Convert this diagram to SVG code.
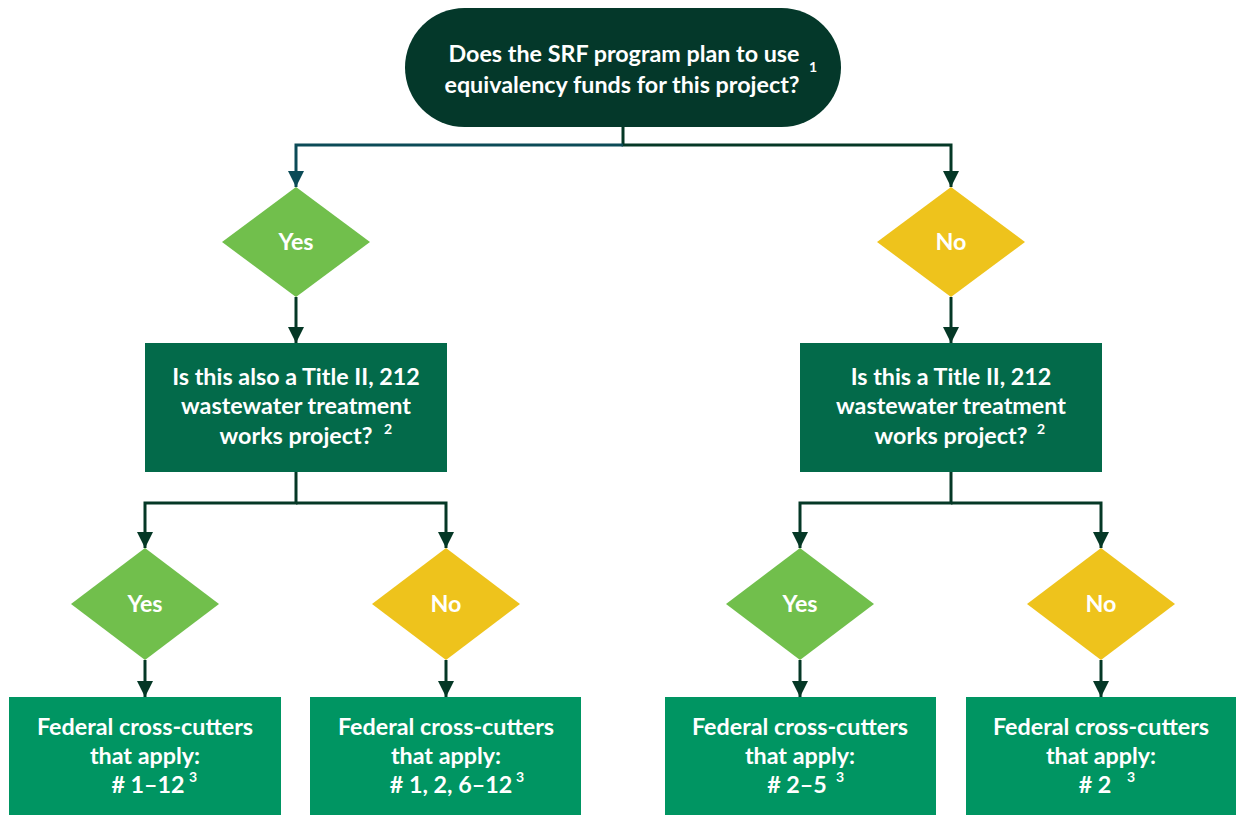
<svg xmlns="http://www.w3.org/2000/svg" width="1236" height="815" viewBox="0 0 1236 815">
<style>
text{font-family:Lato,"Open Sans","Liberation Sans",sans-serif;font-weight:bold;fill:#ffffff}
.t{font-size:23.3px;text-anchor:middle}
.m{font-size:23.3px;text-anchor:middle}
.d{font-size:23.3px;text-anchor:middle}
.s{font-size:14px}
.c{fill:none;stroke:#053826;stroke-width:3}
.ct{fill:none;stroke:#0b4b57;stroke-width:3}
</style>
<defs>
<marker id="a" viewBox="0 0 16 16" refX="16" refY="8" markerWidth="16" markerHeight="16" markerUnits="userSpaceOnUse" orient="auto">
<path d="M0,0 L16,8 L0,16 Z" fill="#053826"/>
</marker>
<marker id="at" viewBox="0 0 16 16" refX="16" refY="8" markerWidth="16" markerHeight="16" markerUnits="userSpaceOnUse" orient="auto">
<path d="M0,0 L16,8 L0,16 Z" fill="#0b4b57"/>
</marker>
</defs>
<g id="connectors">
<path class="c" d="M623,127 V145 H951 V187" marker-end="url(#a)"/>
<path class="ct" d="M623,145 H296 V187" marker-end="url(#at)"/>
<path class="c" d="M296,297 V343" marker-end="url(#a)"/>
<path class="c" d="M951,297 V343" marker-end="url(#a)"/>
<path class="c" d="M296,472 V503 H145 V548" marker-end="url(#a)"/>
<path class="c" d="M296,503 H446 V548" marker-end="url(#a)"/>
<path class="c" d="M951,472 V503 H800 V548" marker-end="url(#a)"/>
<path class="c" d="M951,503 H1101 V548" marker-end="url(#a)"/>
<path class="c" d="M145,660 V697" marker-end="url(#a)"/>
<path class="c" d="M446,660 V697" marker-end="url(#a)"/>
<path class="c" d="M800,660 V697" marker-end="url(#a)"/>
<path class="c" d="M1101,660 V697" marker-end="url(#a)"/>
</g>
<g id="start">
<rect x="405" y="8" width="436" height="119" rx="59.5" fill="#04382a"/>
<text class="t" x="624" y="62">Does the SRF program plan to use</text>
<text class="t" x="622" y="93">equivalency funds for this project?</text>
<text class="s" x="809" y="72">1</text>
</g>
<g id="yes1">
<path d="M296,187 L370,242 L296,297 L222,242 Z" fill="#71bf4c"/>
<text class="d" x="296" y="250">Yes</text>
</g>
<g id="no1">
<path d="M951,187 L1025,242 L951,297 L877,242 Z" fill="#eec31c"/>
<text class="d" x="951" y="250">No</text>
</g>
<g id="q-left">
<rect x="145" y="343" width="302" height="129" fill="#036a4a"/>
<text class="m" x="296" y="385">Is this also a Title II, 212</text>
<text class="m" x="296" y="414">wastewater treatment</text>
<text class="m" x="296" y="444">works project?</text>
<text class="s" x="384" y="434">2</text>
</g>
<g id="q-right">
<rect x="800" y="343" width="302" height="129" fill="#036a4a"/>
<text class="m" x="951" y="385">Is this a Title II, 212</text>
<text class="m" x="951" y="414">wastewater treatment</text>
<text class="m" x="951" y="444">works project?</text>
<text class="s" x="1037" y="434">2</text>
</g>
<g id="yes2">
<path d="M145,548 L219,604 L145,660 L71,604 Z" fill="#71bf4c"/>
<text class="d" x="145" y="612">Yes</text>
</g>
<g id="no2">
<path d="M446,548 L520,604 L446,660 L372,604 Z" fill="#eec31c"/>
<text class="d" x="446" y="612">No</text>
</g>
<g id="yes3">
<path d="M800,548 L874,604 L800,660 L726,604 Z" fill="#71bf4c"/>
<text class="d" x="800" y="612">Yes</text>
</g>
<g id="no3">
<path d="M1101,548 L1175,604 L1101,660 L1027,604 Z" fill="#eec31c"/>
<text class="d" x="1101" y="612">No</text>
</g>
<g id="r1">
<rect x="9" y="697" width="272" height="118" fill="#009562"/>
<text class="m" x="145" y="735">Federal cross-cutters</text>
<text class="m" x="145" y="764">that apply:</text>
<text class="m" x="148" y="793"># 1–12</text>
<text class="s" x="189" y="782">3</text>
</g>
<g id="r2">
<rect x="310" y="697" width="271" height="118" fill="#009562"/>
<text class="m" x="446" y="735">Federal cross-cutters</text>
<text class="m" x="446" y="764">that apply:</text>
<text class="m" x="451" y="793"># 1, 2, 6–12</text>
<text class="s" x="516" y="782">3</text>
</g>
<g id="r3">
<rect x="665" y="697" width="271" height="118" fill="#009562"/>
<text class="m" x="800" y="735">Federal cross-cutters</text>
<text class="m" x="800" y="764">that apply:</text>
<text class="m" x="797" y="793"># 2–5</text>
<text class="s" x="836" y="782">3</text>
</g>
<g id="r4">
<rect x="966" y="697" width="270" height="118" fill="#009562"/>
<text class="m" x="1101" y="735">Federal cross-cutters</text>
<text class="m" x="1101" y="764">that apply:</text>
<text class="m" x="1095" y="793"># 2</text>
<text class="s" x="1127" y="782">3</text>
</g>
</svg>
